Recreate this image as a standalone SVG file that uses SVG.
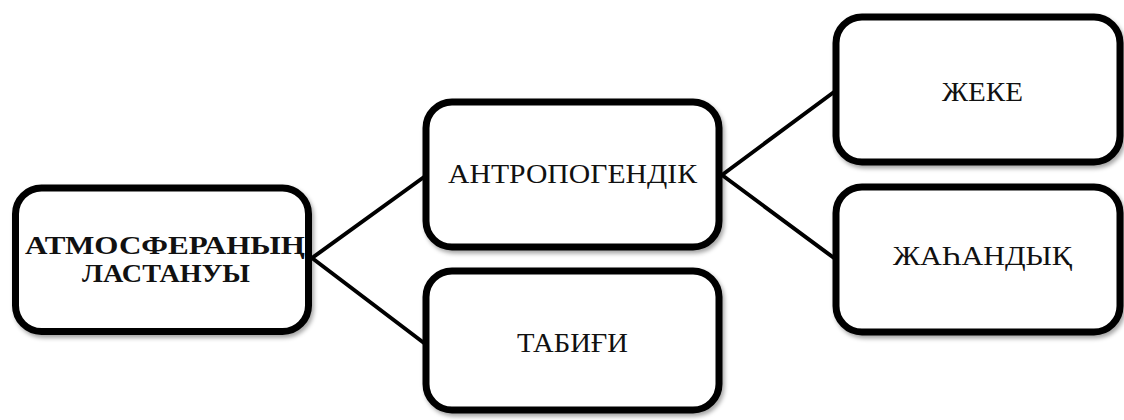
<svg xmlns="http://www.w3.org/2000/svg" width="1124" height="420" viewBox="0 0 1124 420">
  <defs>
    <filter id="shadow" x="-10%" y="-10%" width="125%" height="130%">
      <feDropShadow dx="2" dy="3" stdDeviation="2" flood-color="#000" flood-opacity="0.35"/>
    </filter>
    <style>
      .box { fill: #fff; stroke: #000; stroke-width: 7; filter: url(#shadow); }
      .lbl { font-size: 27px; fill: #111; text-anchor: middle; }
      .bold { font-weight: bold; font-size: 25px; }
      .link { stroke: #000; stroke-width: 4; fill: none; stroke-linecap: round; }
    </style>
  </defs>
  <rect width="1124" height="420" fill="#fff"/>

  <g id="connectors">
    <line class="link" x1="312" y1="258" x2="424" y2="177"/>
    <line class="link" x1="312" y1="258" x2="424" y2="343"/>
    <line class="link" x1="722" y1="175" x2="834" y2="92"/>
    <line class="link" x1="722" y1="175" x2="834" y2="258"/>
  </g>

  <g font-family="'Liberation Serif', 'DejaVu Serif', 'Times New Roman', serif">
    <g id="node-root">
      <rect class="box" x="15.5" y="188" width="293" height="143.5" rx="26"/>
      <text class="lbl bold" x="165" y="254" textLength="280" lengthAdjust="spacingAndGlyphs">АТМОСФЕРАНЫҢ</text>
      <text class="lbl bold" x="166" y="282" textLength="168" lengthAdjust="spacingAndGlyphs">ЛАСТАНУЫ</text>
    </g>

    <g id="node-anthropogenic">
      <rect class="box" x="426" y="102" width="293" height="145" rx="26"/>
      <text class="lbl" x="572.5" y="183" textLength="249" lengthAdjust="spacingAndGlyphs">АНТРОПОГЕНДІК</text>
    </g>

    <g id="node-natural">
      <rect class="box" x="426" y="271" width="293" height="139" rx="26"/>
      <text class="lbl" x="572.5" y="352" textLength="111" lengthAdjust="spacingAndGlyphs">ТАБИҒИ</text>
    </g>

    <g id="node-local">
      <rect class="box" x="836" y="17" width="284" height="145" rx="26"/>
      <text class="lbl" x="982.5" y="101" textLength="81" lengthAdjust="spacingAndGlyphs">ЖЕКЕ</text>
    </g>

    <g id="node-global">
      <rect class="box" x="836" y="187" width="284" height="145" rx="26"/>
      <text class="lbl" x="982.5" y="265" textLength="179" lengthAdjust="spacingAndGlyphs">ЖАҺАНДЫҚ</text>
    </g>
  </g>
</svg>
